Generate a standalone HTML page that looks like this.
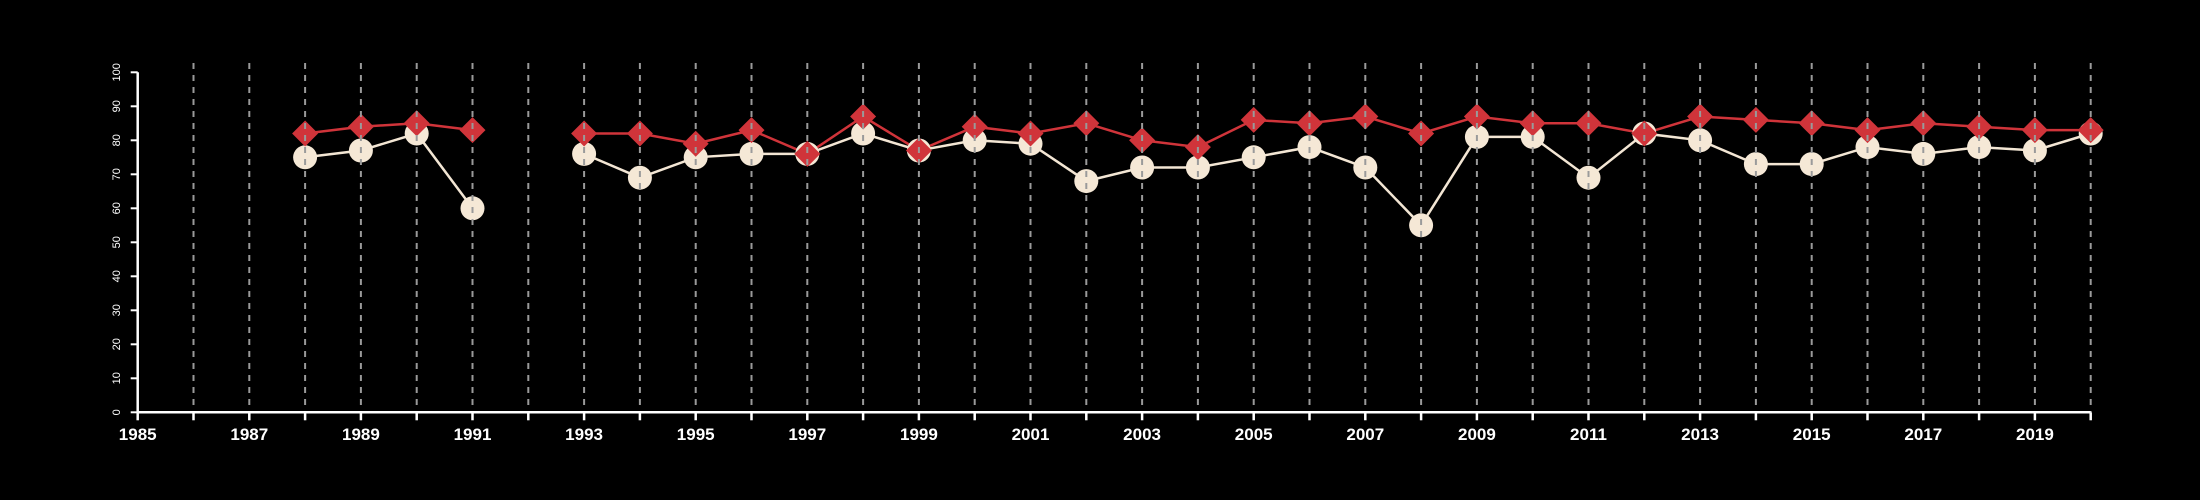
<!DOCTYPE html>
<html><head><meta charset="utf-8"><style>
html,body{margin:0;padding:0;background:#000;}
svg{display:block;}
text{font-family:"Liberation Sans",Arial,sans-serif;fill:#fff;}
</style></head><body>
<svg id="chart" width="2200" height="500" xmlns="http://www.w3.org/2000/svg">
<rect x="0" y="0" width="2200" height="500" fill="#000"/>
<g id="series"></g>
<g id="grid"></g>
<g id="axes"></g>
</svg>
<script>
const years = [1988,1989,1990,1991,1992,1993,1994,1995,1996,1997,1998,1999,2000,2001,2002,2003,2004,2005,2006,2007,2008,2009,2010,2011,2012,2013,2014,2015,2016,2017,2018,2019,2020];
const whiteSeries = [75,77,82,60,null,76,69,75,76,76,82,77,80,79,68,72,72,75,78,72,55,81,81,69,82,80,73,73,78,76,78,77,82];
const redSeries = [82,84,85,83,null,82,82,79,83,76,87,77,84,82,85,80,78,86,85,87,82,87,85,85,82,87,86,85,83,85,84,83,83];
const yTicks = [0,10,20,30,40,50,60,70,80,90,100];
const xTickLabels = [1985,1987,1989,1991,1993,1995,1997,1999,2001,2003,2005,2007,2009,2011,2013,2015,2017,2019];
const xMin = 1985, xMax = 2020, yMin = 0, yMax = 100;

const NS = "http://www.w3.org/2000/svg";
const L = 137.7, R = 2090.7, T = 72.3, B = 412.3;
const xs = v => L + (v - xMin) / (xMax - xMin) * (R - L);
const ys = v => B - (v - yMin) / (yMax - yMin) * (B - T);
function mk(tag, attrs, parent) {
  const e = document.createElementNS(NS, tag);
  for (const k in attrs) e.setAttribute(k, attrs[k]);
  parent.appendChild(e);
  return e;
}
const series = document.getElementById('series');
const grid = document.getElementById('grid');
const axes = document.getElementById('axes');

// gridlines
for (let y = xMin + 1; y <= xMax; y++) {
  const g = mk('line', {x1: xs(y), x2: xs(y), y1: 63, y2: B, stroke: '#9a9a9a', 'stroke-width': 2, 'stroke-dasharray': '6,6'}, grid);
  
  
}

function drawLine(vals, color, name) {
  let seg = [];
  const segs = [];
  vals.forEach((v, i) => {
    if (v === null) { if (seg.length) segs.push(seg); seg = []; }
    else seg.push(xs(years[i]) + ',' + ys(v));
  });
  if (seg.length) segs.push(seg);
  segs.forEach((s, k) => {
    const p = mk('polyline', {points: s.join(' '), fill: 'none', stroke: color, 'stroke-width': 2.5}, series);
    
    
  });
}
drawLine(whiteSeries, '#f3e6d4', 'white-series');
drawLine(redSeries, '#d0343a', 'red-series');

whiteSeries.forEach((v, i) => {
  if (v === null) return;
  const c = mk('circle', {cx: xs(years[i]), cy: ys(v), r: 12, fill: '#f5e8d6'}, series);
  
  
});
redSeries.forEach((v, i) => {
  if (v === null) return;
  const x = xs(years[i]), y = ys(v), d = 13;
  const p = mk('polygon', {points: `${x},${y-d} ${x+d},${y} ${x},${y+d} ${x-d},${y}`, fill: '#d0343a'}, series);
  
  
});

// axes
const xa = mk('line', {x1: L, x2: R, y1: B, y2: B, stroke: '#fff', 'stroke-width': 2.5}, axes);


const ya = mk('line', {x1: L, x2: L, y1: T, y2: B, stroke: '#fff', 'stroke-width': 2.5}, axes);


for (let y = xMin; y <= xMax; y++) {
  const t = mk('line', {x1: xs(y), x2: xs(y), y1: B, y2: B + 8, stroke: '#fff', 'stroke-width': 2.5}, axes);
  
  
}
xTickLabels.forEach(lbl => {
  const t = mk('text', {x: xs(lbl), y: 440, 'text-anchor': 'middle', 'font-size': 17, 'font-weight': 'bold'}, axes);
  t.textContent = lbl;
  
  
});
yTicks.forEach(v => {
  const t = mk('line', {x1: L - 7, x2: L, y1: ys(v), y2: ys(v), stroke: '#fff', 'stroke-width': 2}, axes);
  
  
  const lx = 120, ly = ys(v);
  const tx = mk('text', {x: lx, y: ly, 'text-anchor': 'middle', 'font-size': 11, transform: `rotate(-90 ${lx} ${ly})`}, axes);
  tx.textContent = v;
  
  
});
</script>
</body></html>
